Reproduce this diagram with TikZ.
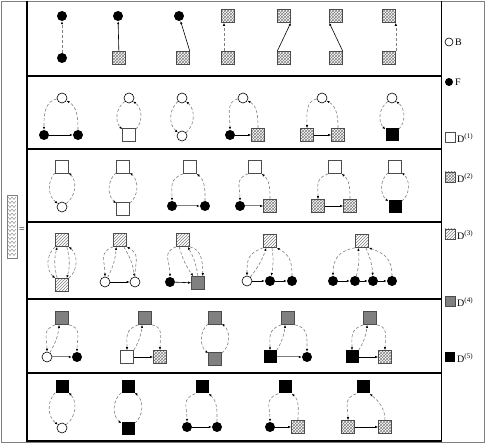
\documentclass[tikz,border=0pt]{standalone}
\usepackage{fontspec}
\setmainfont{Liberation Serif}
\usetikzlibrary{arrows.meta, patterns}

\tikzset{
  Bnode/.style={circle, draw, line width=0.6pt, fill=white, minimum size=10pt, inner sep=0pt},
  Fnode/.style={circle, fill=black, minimum size=10pt, inner sep=0pt},
  Done/.style={rectangle, draw=gray!60!black, line width=0.6pt, fill=white, minimum size=13pt, inner sep=0pt},
  Dtwo/.style={rectangle, draw=gray!60!black, line width=0.6pt, pattern=crosshatch, pattern color=gray, minimum size=13pt, inner sep=0pt},
  Dthree/.style={rectangle, draw=gray!60!black, line width=0.6pt, pattern=north east lines, pattern color=gray, minimum size=13pt, inner sep=0pt},
  Dfour/.style={rectangle, draw=gray!60!black, line width=0.6pt, fill=gray, minimum size=13pt, inner sep=0pt},
  Dfive/.style={rectangle, fill=black, minimum size=13pt, inner sep=0pt},
  dflow/.style={densely dashed, gray, line width=0.6pt, -{Latex[black,length=3pt,width=2.4pt]}},
  sflow/.style={black, line width=0.6pt, -{Latex[length=3pt,width=2.4pt]}},
  gflow/.style={gray, line width=1pt, -{Latex[black,length=3pt,width=2.4pt]}},
  keytext/.style={anchor=west, inner sep=1pt}
}

\begin{document}
\begin{tikzpicture}[x=1pt, y=-1pt]
	\useasboundingbox (0,0) rectangle (485,443);
	
	% Frame
	\draw[gray, line width=0.8pt] (1.5,1) rectangle (484,442);
	\draw[line width=1.2pt] (27,1) -- (27,442);
	\draw[line width=1pt] (441,1) -- (441,442);
	\foreach \yy in {76,149,222,299,373}
		\draw[line width=1.4pt] (27,\yy) -- (441,\yy);
	\draw[line width=1.2pt] (27,441) -- (441,441);
	
	% Zigzag bar
	\draw[gray] (7,195) rectangle (17,258);
	\foreach \zy in {197,201,...,253}
		\draw[gray, line width=0.4pt] (8,\zy) -- (10,\zy+2.5) -- (12,\zy) -- (14,\zy+2.5) -- (16,\zy);
	\node (eq) at (22,230) {=};
	
	% Row 1
	\node[Fnode] (t11) at (62,16) {};
	\node[Fnode] (b11) at (62,58) {};
	\draw[dflow] (b11) -- (t11);
	\node[Fnode] (t12) at (118,16) {};
	\node[Dtwo] (b12) at (119,58) {};
	\draw[sflow] (b12) -- (t12);
	\node[Fnode] (t13) at (179,16) {};
	\node[Dtwo] (b13) at (183,58) {};
	\draw[sflow] (b13.north east) -- (t13);
	\node[Dtwo] (t14) at (228,16) {};
	\node[Dtwo] (b14) at (228,58) {};
	\draw[dflow] ([xshift=-4pt]b14.north) -- ([xshift=-4pt]t14.south);
	\node[Dtwo] (t15) at (284,16) {};
	\node[Dtwo] (b15) at (284,58) {};
	\draw[sflow] (b15.north west) -- (t15.south east);
	\node[Dtwo] (t16) at (336,16) {};
	\node[Dtwo] (b16) at (336,58) {};
	\draw[sflow] (b16.north east) -- (t16.south west);
	\node[Dtwo] (t17) at (389,16) {};
	\node[Dtwo] (b17) at (389,58) {};
	\draw[dflow] (b17.north east) -- (t17.south east);
	
	% Row 2
	\node[Bnode] (t21) at (62,98) {};
	\node[Fnode] (l21) at (44,135) {};
	\node[Fnode] (r21) at (78,135) {};
	\draw[sflow] (l21) -- (r21);
	\draw[dflow] (t21) to[out=190,in=90] (l21);
	\draw[dflow] (r21) to[out=90,in=-30] (t21);
	\node[Bnode] (t22) at (129,98) {};
	\node[Done] (b22) at (129,135) {};
	\draw[dflow] (t22) to[bend right=50] (b22);
	\draw[dflow] (b22) to[bend right=50] (t22);
	\node[Bnode] (t23) at (182,98) {};
	\node[Bnode] (b23) at (182,136) {};
	\draw[dflow] (t23) to[bend right=50] (b23);
	\draw[dflow] (b23) to[bend right=50] (t23);
	\node[Bnode] (t24) at (243,98) {};
	\node[Fnode] (l24) at (230,135) {};
	\node[Dtwo] (r24) at (258,135) {};
	\draw[sflow] (l24) -- (r24);
	\draw[dflow] (t24) to[out=190,in=90] (l24);
	\draw[dflow] (r24) to[out=90,in=-30] (t24);
	\node[Bnode] (t25) at (322,98) {};
	\node[Dtwo] (l25) at (307,135) {};
	\node[Dtwo] (r25) at (338,135) {};
	\draw[sflow] (l25) -- (r25);
	\draw[dflow] (t25) to[out=190,in=90] (l25);
	\draw[dflow] (r25) to[out=90,in=-30] (t25);
	\node[Bnode] (t26) at (392,98) {};
	\node[Dfive] (b26) at (392,135) {};
	\draw[dflow] (t26) to[bend right=50] (b26);
	\draw[dflow] (b26) to[bend right=50] (t26);
	
	% Row 3
	\node[Done] (t31) at (62,167) {};
	\node[Bnode] (b31) at (62,207) {};
	\draw[dflow] (t31) to[bend right=50] (b31);
	\draw[dflow] (b31) to[bend right=50] (t31);
	\node[Done] (t32) at (123,167) {};
	\node[Done] (b32) at (123,209) {};
	\draw[dflow] (t32) to[bend right=50] (b32);
	\draw[dflow] (b32) to[bend right=50] (t32);
	\node[Done] (t33) at (190,167) {};
	\node[Fnode] (l33) at (172,206) {};
	\node[Fnode] (r33) at (205,206) {};
	\draw[gflow] (l33) -- (r33);
	\draw[dflow] (t33.south west) to[out=200,in=90,looseness=1.3] (l33);
	\draw[dflow] (r33) to[out=90,in=-40] (t33.south east);
	\node[Done] (t34) at (255,167) {};
	\node[Fnode] (l34) at (240,206) {};
	\node[Dtwo] (r34) at (270,206) {};
	\draw[gflow] (l34) -- (r34);
	\draw[dflow] (t34.south west) to[out=200,in=90,looseness=1.3] (l34);
	\draw[dflow] (r34) to[out=90,in=-40] (t34.south east);
	\node[Done] (t35) at (335,167) {};
	\node[Dtwo] (l35) at (318,206) {};
	\node[Dtwo] (r35) at (350,206) {};
	\draw[sflow] (l35) -- (r35);
	\draw[dflow] (t35.south west) to[out=200,in=90,looseness=1.3] (l35);
	\draw[dflow] (r35) to[out=90,in=-40] (t35.south east);
	\node[Done] (t36) at (395,167) {};
	\node[Dfive] (b36) at (395,207) {};
	\draw[dflow] (t36) to[bend right=50] (b36);
	\draw[dflow] (b36) to[bend right=50] (t36);
	
	% Row 4
	\node[Dthree] (t41) at (62,240) {};
	\node[Dthree] (b41) at (62,285) {};
	\draw[dflow] (t41.south west) to[bend right=50] (b41.north west);
	\draw[dflow] ([xshift=2pt]b41.north west) to[bend left=15] ([xshift=2pt]t41.south west);
	\draw[dflow] ([xshift=-2pt]t41.south east) to[bend left=15] ([xshift=-2pt]b41.north east);
	\draw[dflow] (b41.north east) to[bend right=50] (t41.south east);
	\node[Dthree] (t42) at (120,240) {};
	\node[Bnode] (l42) at (105,282) {};
	\node[Bnode] (r42) at (135,282) {};
	\draw[sflow] (l42) -- (r42);
	\draw[dflow] (t42.south west) to[out=200,in=90,looseness=1.3] (l42);
	\draw[dflow] (l42) to[bend right=12] ([xshift=3pt]t42.south west);
	\draw[dflow] ([xshift=-3pt]t42.south east) to[bend left=12] (r42);
	\draw[dflow] (r42) to[out=90,in=-30,looseness=1.3] (t42.south east);
	\node[Dthree] (t43) at (183,240) {};
	\node[Fnode] (l43) at (170,282) {};
	\node[Dfour] (r43) at (198,283) {};
	\draw[sflow] (l43) -- (r43);
	\draw[dflow] (t43.south west) to[out=200,in=90,looseness=1.3] (l43);
	\draw[dflow] ([xshift=3pt]t43.south west) to[bend right=10] ([xshift=2pt]r43.north west);
	\draw[dflow] (r43.north) to[bend right=10] ([xshift=-2pt]t43.south east);
	\draw[dflow] (t43.south east) to[out=-10,in=90] ([xshift=-2pt]r43.north east);
	\node[Dthree] (t44) at (270,241) {};
	\node[Bnode] (a44) at (247,281) {};
	\node[Fnode] (b44) at (270,281) {};
	\node[Fnode] (c44) at (292,281) {};
	\draw[sflow] (a44) -- (b44);
	\draw[sflow] (b44) -- (c44);
	\draw[dflow] (t44.south west) to[out=200,in=90,looseness=1.3] (a44);
	\draw[dflow] (a44) to[bend right=10] ([xshift=3pt]t44.south west);
	\draw[dflow] ([xshift=2pt]t44.south) to[bend left=10] (b44);
	\draw[dflow] (c44) to[out=90,in=-30,looseness=1.2] (t44.south east);
	\node[Dthree] (t45) at (362,241) {};
	\node[Fnode] (a45) at (333,281) {};
	\node[Fnode] (b45) at (355,281) {};
	\node[Fnode] (c45) at (373,281) {};
	\node[Fnode] (d45) at (392,281) {};
	\draw[sflow] (a45) -- (b45);
	\draw[sflow] (b45) -- (c45);
	\draw[sflow] (c45) -- (d45);
	\draw[dflow] (t45.south west) to[out=190,in=90,looseness=1.2] (a45);
	\draw[dflow] (b45) to[bend right=10] ([xshift=3pt]t45.south west);
	\draw[dflow] ([xshift=-3pt]t45.south east) to[bend left=10] (c45);
	\draw[dflow] (d45) to[out=90,in=-20,looseness=1.2] (t45.south east);
	
	% Row 5
	\node[Dfour] (t51) at (62,318) {};
	\node[Bnode] (l51) at (47,357) {};
	\node[Fnode] (r51) at (77,357) {};
	\draw[gflow] (l51) -- (r51);
	\draw[dflow] (t51.south west) to[out=200,in=90,looseness=1.3] (l51);
	\draw[dflow] (l51) to[bend right=12] ([xshift=4pt]t51.south west);
	\draw[dflow] (t51.south east) to[out=-10,in=90,looseness=1.2] (r51);
	\node[Dfour] (t52) at (145,318) {};
	\node[Done] (l52) at (127,357) {};
	\node[Dtwo] (r52) at (160,357) {};
	\draw[sflow] (l52) -- (r52);
	\draw[dflow] (t52.south west) to[out=200,in=90,looseness=1.3] (l52);
	\draw[dflow] (l52.north east) to[bend right=12] ([xshift=4pt]t52.south west);
	\draw[dflow] (t52.south east) to[out=-10,in=90,looseness=1.2] (r52);
	\node[Dfour] (t53) at (215,318) {};
	\node[Dfour] (b53) at (215,359) {};
	\draw[dflow] (t53) to[bend right=50] (b53);
	\draw[dflow] (b53) to[bend right=50] (t53);
	\node[Dfour] (t54) at (288,318) {};
	\node[Dfive] (l54) at (270,357) {};
	\node[Fnode] (r54) at (307,357) {};
	\draw[gflow] (l54) -- (r54);
	\draw[dflow] (t54.south west) to[out=200,in=90,looseness=1.3] (l54);
	\draw[dflow] (l54.north east) to[bend right=12] ([xshift=4pt]t54.south west);
	\draw[dflow] (t54.south east) to[out=-10,in=90,looseness=1.2] (r54);
	\node[Dfour] (t55) at (370,318) {};
	\node[Dfive] (l55) at (352,357) {};
	\node[Dtwo] (r55) at (385,357) {};
	\draw[sflow] (l55) -- (r55);
	\draw[dflow] (t55.south west) to[out=200,in=90,looseness=1.3] (l55);
	\draw[dflow] (l55.north east) to[bend right=12] ([xshift=4pt]t55.south west);
	\draw[dflow] (t55.south east) to[out=-10,in=90,looseness=1.2] (r55);
	
	% Row 6
	\node[Dfive] (t61) at (62,387) {};
	\node[Bnode] (b61) at (62,428) {};
	\draw[dflow] (t61) to[bend right=50] (b61);
	\draw[dflow] (b61) to[bend right=50] (t61);
	\node[Dfive] (t62) at (128,387) {};
	\node[Dfive] (b62) at (128,429) {};
	\draw[dflow] (t62) to[bend right=50] (b62);
	\draw[dflow] (b62) to[bend right=50] (t62);
	\node[Dfive] (t63) at (202,387) {};
	\node[Fnode] (l63) at (187,427) {};
	\node[Fnode] (r63) at (217,427) {};
	\draw[sflow] (l63) -- (r63);
	\draw[dflow] (t63.south west) to[out=200,in=90,looseness=1.3] (l63);
	\draw[dflow] (r63) to[out=90,in=-40] (t63.south east);
	\node[Dfive] (t64) at (285,387) {};
	\node[Fnode] (l64) at (270,427) {};
	\node[Dtwo] (r64) at (298,427) {};
	\draw[sflow] (l64) -- (r64);
	\draw[dflow] (t64.south west) to[out=200,in=90,looseness=1.3] (l64);
	\draw[dflow] (r64) to[out=90,in=-40] (t64.south east);
	\node[Dfive] (t65) at (363,387) {};
	\node[Dtwo] (l65) at (348,427) {};
	\node[Dtwo] (r65) at (385,427) {};
	\draw[sflow] (l65) -- (r65);
	\draw[dflow] (t65.south west) to[out=200,in=90,looseness=1.3] (l65);
	\draw[dflow] (r65) to[out=90,in=-40] (t65.south east);
	
	% Key
	\node[Bnode, minimum size=8pt] (kB) at (449,42) {};
	\node[keytext] (kBt) at (454,42) {B};
	\node[Fnode, minimum size=8pt] (kF) at (449,82) {};
	\node[keytext] (kFt) at (454,82) {F};
	\node[Done, minimum size=10pt] (k1) at (450,137) {};
	\node[keytext] (k1t) at (456,138) {D\textsuperscript{(1)}};
	\node[Dtwo, minimum size=10pt] (k2) at (450,177) {};
	\node[keytext] (k2t) at (456,178) {D\textsuperscript{(2)}};
	\node[Dthree, minimum size=10pt] (k3) at (450,234) {};
	\node[keytext] (k3t) at (456,235) {D\textsuperscript{(3)}};
	\node[Dfour, minimum size=10pt] (k4) at (450,301) {};
	\node[keytext] (k4t) at (456,302) {D\textsuperscript{(4)}};
	\node[Dfive, minimum size=10pt] (k5) at (450,357) {};
	\node[keytext] (k5t) at (456,358) {D\textsuperscript{(5)}};
\end{tikzpicture}
\end{document}
